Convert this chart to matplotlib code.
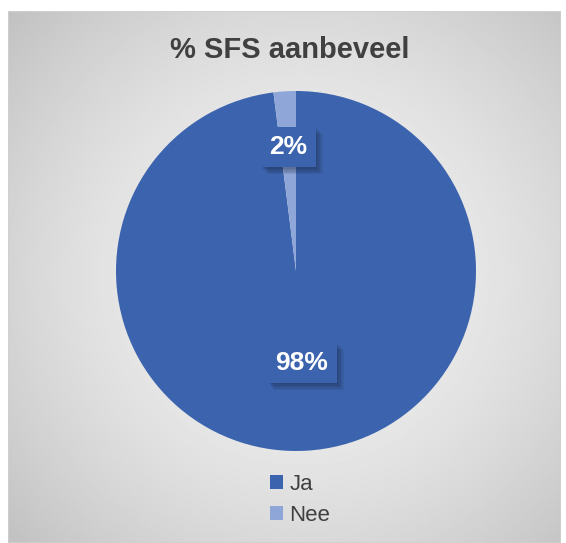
import numpy as np
import matplotlib
matplotlib.use("Agg")
import matplotlib.pyplot as plt
import matplotlib.patheffects as pe
from matplotlib.patches import Patch, Rectangle

# data
labels = ["Ja", "Nee"]
values = [98, 2]
pct_text = ["98%", "2%"]
colors = ["#3c64ae", "#8fa6d8"]
label_dist = [0.51, 0.69]

plt.rcParams["font.family"] = ["Liberation Sans", "DejaVu Sans"]

W, H = 566, 543
fig = plt.figure(figsize=(W / 100, H / 100), dpi=100)

# background frame with radial gradient
bg = fig.add_axes([8 / W, 0, (561 - 8) / W, (H - 11) / H])
yy, xx = np.mgrid[0:1:300j, 0:1:300j]
r = np.sqrt((xx - 0.53) ** 2 + ((yy - 0.5) * 0.96) ** 2)
grad = 0.955 - 0.2 * np.clip(r / 0.72, 0, 1) ** 1.6
bg.imshow(grad, cmap="gray", vmin=0, vmax=1, extent=[0, 1, 0, 1],
          aspect="auto", interpolation="bilinear")
bg.add_patch(Rectangle((0, 0), 1, 1, transform=bg.transAxes, fill=False,
                       edgecolor="#d0d0d0", lw=1.2))
bg.set_axis_off()

# pie
cx, cy, rad = 296, 271, 180
ax = fig.add_axes([(cx - rad) / W, (H - cy - rad) / H, 2 * rad / W, 2 * rad / H])
wedges, _ = ax.pie(values, colors=colors, startangle=90, counterclock=False,
                   wedgeprops=dict(linewidth=0))
ax.set_xlim(-1, 1)
ax.set_ylim(-1, 1)
ax.set_aspect("equal")

# soft shadow made of a few faint offset copies
shadow = [pe.SimplePatchShadow(offset=(k, -k), shadow_rgbFace="#101828", alpha=0.09)
          for k in (1, 2, 3, 4, 5)]

for w, txt, d in zip(wedges, pct_text, label_dist):
    ang = np.deg2rad((w.theta1 + w.theta2) / 2)
    t = ax.text(d * np.cos(ang), d * np.sin(ang), txt, ha="center", va="center",
                color="white", fontsize=19, fontweight="bold",
                bbox=dict(boxstyle="square,pad=0.32", facecolor=colors[0],
                          edgecolor="none"))
    t.get_bbox_patch().set_path_effects(shadow + [pe.Normal()])

fig.text(290 / W, 1 - 50 / H, "% SFS aanbeveel", ha="center", va="center",
         fontsize=21, fontweight="bold", color="#404040")

handles = [Patch(facecolor=c, edgecolor="none") for c in colors]
fig.legend(handles, labels, loc="center", bbox_to_anchor=(300 / W, 1 - 500 / H),
           frameon=False, fontsize=16, handlelength=0.6, handleheight=0.6,
           handletextpad=0.3, labelspacing=0.45, labelcolor="#404040")

fig.savefig("out.png", dpi=100, facecolor="white")
